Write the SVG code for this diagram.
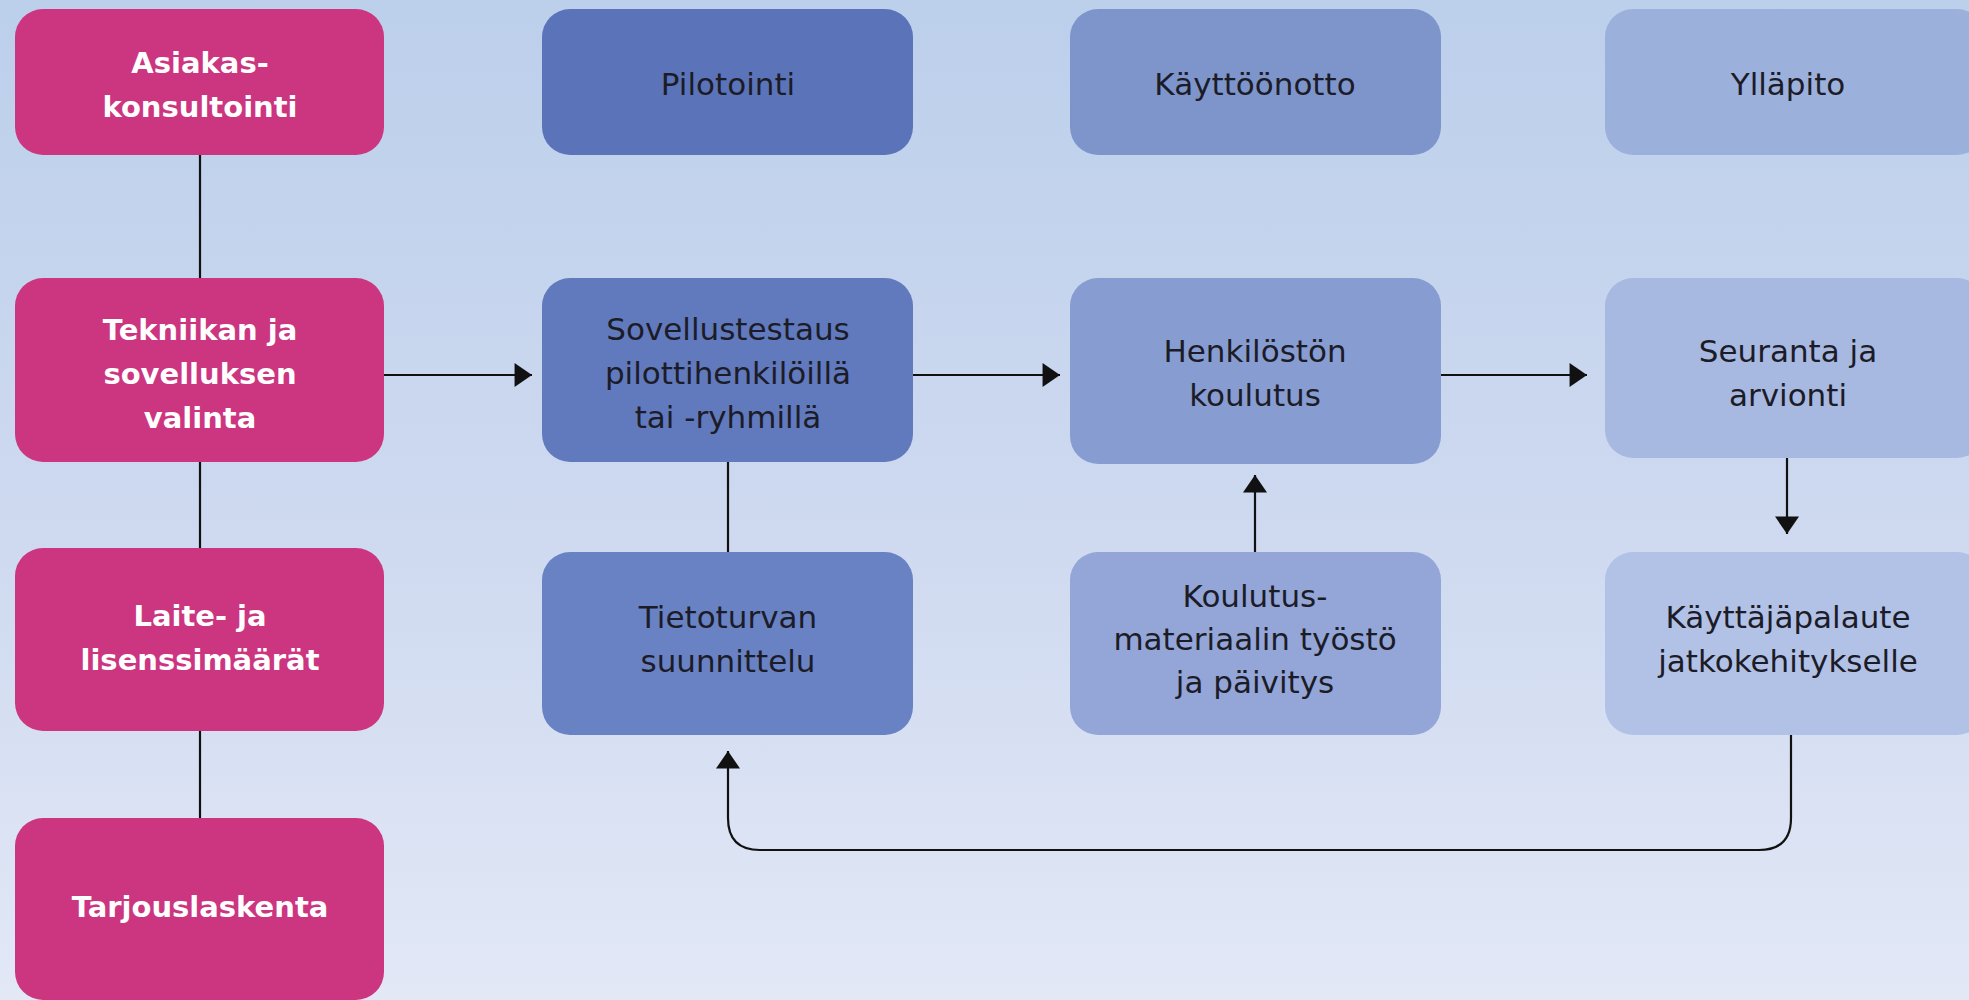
<svg xmlns="http://www.w3.org/2000/svg" width="1969" height="1000" viewBox="0 0 1969 1000">
  <defs>
    <linearGradient id="bg" x1="0" y1="0" x2="0" y2="1">
      <stop offset="0" stop-color="#bccfeb"/>
      <stop offset="0.55" stop-color="#cfdaf0"/>
      <stop offset="1" stop-color="#e2e8f6"/>
    </linearGradient>
    <marker id="arrow" markerUnits="userSpaceOnUse" markerWidth="18" markerHeight="24" viewBox="0 0 16 22" refX="16" refY="11" orient="auto">
      <path d="M0,0 L16,11 L0,22 z" fill="#111"/>
    </marker>
    <style>
      .box { stroke: none; }
      .pink { fill: #cc3580; }
      .t { font-family: "DejaVu Sans", "Open Sans", sans-serif; text-anchor: middle; }
      .tw { font-size: 29px; font-weight: bold; fill: #ffffff; }
      .td { font-size: 31px; fill: #1c1c28; }
      .conn { fill: none; stroke: #111; stroke-width: 2.2; }
    </style>
  </defs>

  <rect x="0" y="0" width="1969" height="1000" fill="url(#bg)"/>

  <g id="connectors">
    <path class="conn" d="M200,155 V279"/>
    <path class="conn" d="M200,462 V548"/>
    <path class="conn" d="M200,731 V818"/>
    <path class="conn" d="M728,462 V552"/>
    <path class="conn" d="M384,375 H532" marker-end="url(#arrow)"/>
    <path class="conn" d="M913,375 H1060" marker-end="url(#arrow)"/>
    <path class="conn" d="M1441,375 H1587" marker-end="url(#arrow)"/>
    <path class="conn" d="M1255,552 V475" marker-end="url(#arrow)"/>
    <path class="conn" d="M1787,458 V534" marker-end="url(#arrow)"/>
    <path class="conn" d="M1791,735 V818 Q1791,850 1759,850 H760 Q728,850 728,818 V751" marker-end="url(#arrow)"/>
  </g>

  <g id="node-asiakaskonsultointi">
    <rect class="box pink" x="15" y="9" width="369" height="146" rx="28"/>
    <text class="t tw" x="200" y="73">Asiakas-</text>
    <text class="t tw" x="200" y="117">konsultointi</text>
  </g>
  <g id="node-tekniikan">
    <rect class="box pink" x="15" y="278" width="369" height="184" rx="28"/>
    <text class="t tw" x="200" y="340">Tekniikan ja</text>
    <text class="t tw" x="200" y="384">sovelluksen</text>
    <text class="t tw" x="200" y="428">valinta</text>
  </g>
  <g id="node-laite">
    <rect class="box pink" x="15" y="548" width="369" height="183" rx="28"/>
    <text class="t tw" x="200" y="626">Laite- ja</text>
    <text class="t tw" x="200" y="670">lisenssimäärät</text>
  </g>
  <g id="node-tarjouslaskenta">
    <rect class="box pink" x="15" y="818" width="369" height="182" rx="28"/>
    <text class="t tw" x="200" y="917">Tarjouslaskenta</text>
  </g>

  <g id="node-pilotointi">
    <rect class="box" fill="#5b74b9" x="542" y="9" width="371" height="146" rx="28"/>
    <text class="t td" x="728" y="95">Pilotointi</text>
  </g>
  <g id="node-sovellustestaus">
    <rect class="box" fill="#6179bd" x="542" y="278" width="371" height="184" rx="28"/>
    <text class="t td" x="728" y="340">Sovellustestaus</text>
    <text class="t td" x="728" y="384">pilottihenkilöillä</text>
    <text class="t td" x="728" y="428">tai -ryhmillä</text>
  </g>
  <g id="node-tietoturvan">
    <rect class="box" fill="#6982c3" x="542" y="552" width="371" height="183" rx="28"/>
    <text class="t td" x="728" y="628">Tietoturvan</text>
    <text class="t td" x="728" y="672">suunnittelu</text>
  </g>

  <g id="node-kayttoonotto">
    <rect class="box" fill="#7e95cb" x="1070" y="9" width="371" height="146" rx="28"/>
    <text class="t td" x="1255" y="95">Käyttöönotto</text>
  </g>
  <g id="node-henkiloston">
    <rect class="box" fill="#879dd1" x="1070" y="278" width="371" height="186" rx="28"/>
    <text class="t td" x="1255" y="362">Henkilöstön</text>
    <text class="t td" x="1255" y="406">koulutus</text>
  </g>
  <g id="node-koulutusmateriaali">
    <rect class="box" fill="#93a6d7" x="1070" y="552" width="371" height="183" rx="28"/>
    <text class="t td" x="1255" y="607">Koulutus-</text>
    <text class="t td" x="1255" y="650">materiaalin työstö</text>
    <text class="t td" x="1255" y="693">ja päivitys</text>
  </g>

  <g id="node-yllapito">
    <rect class="box" fill="#9cb0dc" x="1605" y="9" width="380" height="146" rx="28"/>
    <text class="t td" x="1788" y="95">Ylläpito</text>
  </g>
  <g id="node-seuranta">
    <rect class="box" fill="#a7b9e1" x="1605" y="278" width="380" height="180" rx="28"/>
    <text class="t td" x="1788" y="362">Seuranta ja</text>
    <text class="t td" x="1788" y="406">arvionti</text>
  </g>
  <g id="node-kayttajapalaute">
    <rect class="box" fill="#b2c2e6" x="1605" y="552" width="380" height="183" rx="28"/>
    <text class="t td" x="1788" y="628">Käyttäjäpalaute</text>
    <text class="t td" x="1788" y="672">jatkokehitykselle</text>
  </g>
</svg>
